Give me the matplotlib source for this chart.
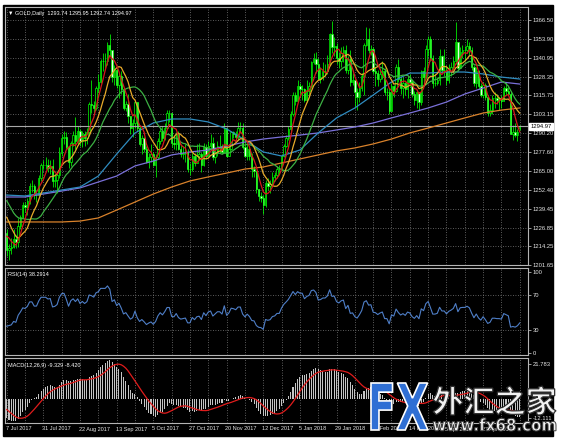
import numpy as np
import pandas as pd
import matplotlib
matplotlib.use("Agg")
from matplotlib import pyplot as plt
from matplotlib.textpath import TextPath
from matplotlib.patches import PathPatch, Rectangle
from matplotlib.font_manager import FontProperties
from matplotlib.transforms import Affine2D, blended_transform_factory

# ---- data: GOLD daily, 7 Jul 2017 .. 21 May 2018 ----
# closes before the window (only used to warm up the indicators)
pre_close = [1230, 1236, 1259, 1253, 1254, 1261, 1251, 1257, 1257, 1267, 1266, 1262, 1268,
             1264, 1279, 1281, 1293, 1287, 1280, 1271, 1266, 1267, 1276, 1255, 1254, 1246,
             1243, 1247, 1249, 1256, 1246, 1252, 1249, 1244, 1242, 1219, 1225, 1226, 1223]

close = [
    # Jul
    1212, 1213, 1214, 1219, 1217, 1228, 1234, 1242, 1241, 1245, 1255, 1255, 1249, 1249, 1260, 1269, 1269,
    # Aug
    1269, 1267, 1268, 1258, 1259, 1262, 1277, 1287, 1288, 1281, 1271, 1284, 1289, 1285, 1292, 1285, 1290,
    1287, 1291, 1310, 1309, 1307, 1321,
    # Sep
    1325, 1339, 1339, 1339, 1350, 1346, 1328, 1333, 1323, 1329, 1320, 1307, 1310, 1302, 1294, 1297, 1311,
    1294, 1283, 1287, 1280,
    # Oct
    1271, 1274, 1276, 1269, 1274, 1285, 1292, 1287, 1294, 1304, 1304, 1284, 1283, 1290, 1280, 1276, 1277,
    1278, 1266, 1266, 1275, 1270,
    # Nov
    1275, 1276, 1269, 1281, 1275, 1282, 1284, 1274, 1278, 1282, 1282, 1278, 1294, 1275, 1280, 1291, 1290,
    1288, 1294, 1294, 1281, 1275,
    # Dec
    1280, 1275, 1266, 1265, 1253, 1248, 1247, 1242, 1257, 1255, 1256, 1261, 1262, 1266, 1266, 1275, 1282,
    1287, 1293, 1303,
    # Jan
    1316, 1312, 1322, 1320, 1320, 1313, 1319, 1322, 1338, 1340, 1337, 1327, 1328, 1332, 1332, 1337, 1357,
    1348, 1349, 1341, 1339, 1344,
    # Feb
    1346, 1333, 1340, 1325, 1326, 1318, 1315, 1321, 1329, 1350, 1354, 1346, 1347, 1332, 1331, 1327, 1330,
    1332, 1318, 1318,
    # Mar
    1305, 1322, 1319, 1335, 1327, 1321, 1324, 1320, 1327, 1325, 1317, 1313, 1318, 1311, 1332, 1328, 1347,
    1354, 1341, 1324, 1324, 1326,
    # Apr
    1342, 1333, 1333, 1326, 1332, 1335, 1339, 1352, 1334, 1345, 1346, 1346, 1349, 1346, 1335, 1324, 1332,
    1322, 1316, 1323, 1315,
    # May
    1304, 1306, 1314, 1314, 1313, 1313, 1312, 1321, 1319, 1317, 1290, 1291, 1289, 1291, 1294.97]

high = [
    1226, 1216, 1220, 1226, 1222, 1233, 1235, 1244, 1244, 1247, 1257, 1259, 1256, 1252, 1262, 1270, 1272,
    1274, 1273, 1272, 1273, 1262, 1265, 1281, 1290, 1292, 1291, 1282, 1285, 1292, 1301, 1295, 1293, 1292,
    1292, 1294, 1311, 1326, 1312, 1322,
    1330, 1340, 1344, 1344, 1352, 1357, 1343, 1336, 1334, 1331, 1332, 1321, 1312, 1317, 1302, 1300, 1312,
    1311, 1295, 1289, 1288,
    1282, 1277, 1283, 1278, 1276, 1287, 1294, 1295, 1297, 1306, 1306, 1304, 1289, 1291, 1292, 1283, 1282,
    1283, 1280, 1270, 1277, 1277,
    1283, 1284, 1278, 1284, 1283, 1285, 1290, 1288, 1281, 1285, 1289, 1283, 1297, 1294, 1283, 1292, 1292,
    1292, 1298, 1298, 1297, 1286,
    1284, 1281, 1277, 1268, 1265, 1253, 1251, 1249, 1259, 1260, 1259, 1264, 1264, 1268, 1269, 1276, 1283,
    1289, 1295, 1305,
    1318, 1318, 1326, 1324, 1323, 1321, 1326, 1325, 1339, 1344, 1345, 1341, 1335, 1338, 1337, 1343, 1358,
    1366, 1355, 1351, 1345, 1348,
    1349, 1350, 1342, 1346, 1331, 1323, 1321, 1325, 1331, 1351, 1362, 1361, 1350, 1348, 1335, 1333, 1334,
    1339, 1334, 1321,
    1321, 1324, 1323, 1337, 1340, 1329, 1328, 1325, 1329, 1330, 1326, 1319, 1319, 1318, 1333, 1335, 1350,
    1356, 1356, 1343, 1330, 1328,
    1347, 1343, 1347, 1336, 1337, 1338, 1342, 1365, 1352, 1348, 1350, 1349, 1354, 1352, 1348, 1336, 1335,
    1333, 1324, 1325, 1324,
    1316, 1310, 1316, 1318, 1317, 1315, 1316, 1322, 1325, 1322, 1319, 1296, 1297, 1293, 1295.95]

low = [
    1208, 1205, 1209, 1213, 1213, 1214, 1226, 1233, 1237, 1235, 1243, 1251, 1246, 1244, 1248, 1258, 1266,
    1266, 1264, 1263, 1254, 1254, 1250, 1260, 1275, 1283, 1280, 1267, 1268, 1282, 1280, 1283, 1282, 1281,
    1282, 1283, 1290, 1304, 1304, 1306,
    1318, 1324, 1332, 1334, 1336, 1342, 1325, 1323, 1321, 1314, 1317, 1306, 1305, 1297, 1290, 1288, 1294,
    1292, 1282, 1276, 1278,
    1270, 1267, 1271, 1268, 1261, 1273, 1283, 1285, 1286, 1293, 1298, 1281, 1280, 1279, 1279, 1274, 1273,
    1271, 1264, 1262, 1265, 1268,
    1270, 1272, 1264, 1268, 1273, 1275, 1280, 1272, 1270, 1275, 1277, 1276, 1277, 1274, 1275, 1279, 1287,
    1286, 1286, 1291, 1280, 1274,
    1272, 1272, 1261, 1261, 1250, 1245, 1244, 1236, 1241, 1252, 1250, 1255, 1258, 1260, 1263, 1265, 1274,
    1281, 1286, 1292,
    1302, 1309, 1311, 1315, 1313, 1311, 1311, 1315, 1321, 1337, 1331, 1326, 1324, 1326, 1329, 1330, 1336,
    1344, 1342, 1337, 1334, 1335,
    1338, 1331, 1330, 1322, 1323, 1307, 1306, 1311, 1319, 1316, 1349, 1344, 1343, 1330, 1322, 1322, 1325,
    1327, 1316, 1313,
    1303, 1305, 1315, 1318, 1325, 1317, 1314, 1316, 1314, 1322, 1315, 1309, 1307, 1306, 1309, 1322, 1327,
    1342, 1339, 1321, 1322, 1323,
    1323, 1331, 1329, 1323, 1324, 1329, 1332, 1337, 1332, 1334, 1341, 1339, 1344, 1343, 1333, 1322, 1321,
    1320, 1315, 1314, 1313,
    1302, 1302, 1303, 1307, 1310, 1306, 1307, 1312, 1316, 1316, 1290, 1286, 1288, 1285, 1292.74]

last_open = 1293.74

# slow moving averages, one value every 8 bars
ma_step = 8
ma_teal = [1248.7, 1248.1, 1250.1, 1252.1, 1254.1, 1261.5, 1276.3, 1290.5, 1297.2, 1299.9, 1299.9,
           1297.9, 1293.2, 1285.8, 1277.7, 1275.0, 1279.0, 1290.5, 1300.6, 1307.3, 1316.0, 1324.8,
           1330.8, 1330.8, 1331.5, 1331.5, 1330.2, 1328.1, 1326.8]
ma_purple = [1247.4, 1247.4, 1249.4, 1251.4, 1253.5, 1257.5, 1261.5, 1268.3, 1271.6, 1275.7, 1277.7,
             1279.0, 1281.7, 1284.4, 1286.4, 1287.8, 1289.1, 1290.5, 1292.5, 1294.5, 1297.2, 1300.6,
             1303.9, 1307.3, 1311.3, 1316.7, 1320.7, 1324.8, 1323.4]
ma_orange = [1230.6, 1230.6, 1230.6, 1230.6, 1231.2, 1233.3, 1238.6, 1244.0, 1249.4, 1254.1, 1258.2,
             1260.9, 1263.5, 1266.2, 1267.6, 1270.3, 1273.0, 1275.7, 1278.4, 1280.4, 1283.1, 1286.4,
             1290.5, 1293.8, 1297.2, 1300.6, 1303.9, 1305.9, 1307.3]

price_ticks = [1366.50, 1353.90, 1340.95, 1328.35, 1315.75, 1303.15, 1290.20, 1277.60,
               1265.00, 1252.40, 1239.45, 1226.85, 1214.25, 1201.65]
date_labels = ['7 Jul 2017', '31 Jul 2017', '22 Aug 2017', '13 Sep 2017', '5 Oct 2017',
               '27 Oct 2017', '20 Nov 2017', '12 Dec 2017', '5 Jan 2018', '29 Jan 2018',
               '20 Feb 2018', '14 Mar 2018', '5 Apr 2018', '27 Apr 2018']
date_step = 16
grid_step = 8

header = "\u25bc GOLD,Daily  1293.74 1295.95 1292.74 1294.97"
rsi_text = "RSI(14) 38.2914"
macd_text = "MACD(12,26,9) -9.329 -8.420"

# ---- indicators ----
full = pd.Series(pre_close + close, dtype=float)
npre = len(pre_close)
c = np.array(close, dtype=float)
o = np.array([pre_close[-1]] + close[:-1], dtype=float)
o[-1] = last_open
h = np.array(high, dtype=float)
l = np.array(low, dtype=float)
n = len(c)
x = np.arange(n)

ma5 = full.rolling(5).mean().values[npre:]
ma10 = full.rolling(10).mean().values[npre:]
ma20 = full.rolling(20).mean().values[npre:]

d = full.diff()
up = d.clip(lower=0).ewm(alpha=1 / 14, adjust=False).mean()
dn = (-d.clip(upper=0)).ewm(alpha=1 / 14, adjust=False).mean()
rsi = (100 - 100 / (1 + up / dn)).values[npre:]

macd = full.ewm(span=12, adjust=False).mean() - full.ewm(span=26, adjust=False).mean()
signal = macd.rolling(9).mean().values[npre:]
macd = macd.values[npre:]

# ---- figure ----
W, H = 562, 438
fig = plt.figure(figsize=(W / 100, H / 100), dpi=100, facecolor='white')
fig.patches.append(Rectangle((3 / W, 1 - 436 / H), 550 / W, 431 / H,
                             transform=fig.transFigure, color='black', zorder=-5))


def box(top, bottom):
    return [5 / W, 1 - bottom / H, 523 / W, (bottom - top) / H]


ax0 = fig.add_axes(box(7, 265))
ax1 = fig.add_axes(box(267.5, 355))
ax2 = fig.add_axes(box(357.5, 422.7))

fnt = ['Liberation Sans', 'DejaVu Sans']
fs = 4.0
gcol = '#7c7c7c'
dot = (0, (1, 2))
xlim = (-0.75, 227.6)

for ax in (ax0, ax1, ax2):
    ax.set_facecolor('black')
    ax.set_xlim(*xlim)
    for s in ax.spines.values():
        s.set_color('#b4b4b4')
        s.set_linewidth(0.8)
    ax.set_xticks([])
    for gx in range(0, n, grid_step):
        ax.axvline(gx, color=gcol, lw=0.6, ls=dot, zorder=1)
    ax.yaxis.tick_right()
    ax.tick_params(axis='y', direction='out', length=2, width=0.6, color='#b4b4b4',
                   labelcolor='#e6e6e6', labelsize=4.2, pad=1.2)

# main price panel
ax0.set_ylim(1201.64, 1375.25)
ax0.set_yticks(price_ticks)
ax0.set_yticklabels(['%.2f' % p for p in price_ticks], family=fnt)
for p in price_ticks:
    ax0.axhline(p, color=gcol, lw=0.6, ls=dot, zorder=1)

ax0.vlines(x, l, h, color='#00ff00', lw=0.55, zorder=2)
bull = c >= o
ax0.bar(x[bull], (c - o)[bull], bottom=o[bull], width=0.6, color='black',
        edgecolor='#00ff00', lw=0.5, zorder=2)
ax0.bar(x[~bull], (o - c)[~bull], bottom=c[~bull], width=0.6, color='#e4ffe4',
        edgecolor='#00ff00', lw=0.5, zorder=2)

mx = np.arange(len(ma_orange)) * ma_step
ax0.plot(mx, ma_orange, color='#d9822b', lw=0.9, zorder=3)
ax0.plot(mx, ma_purple, color='#7a70d8', lw=0.9, zorder=3)
ax0.plot(mx, ma_teal, color='#2f8cc0', lw=0.9, zorder=3)
ax0.plot(x, ma20, color='#3cb043', lw=0.9, zorder=3)
ax0.plot(x, ma10, color='#e8aa2a', lw=0.9, zorder=3)
ax0.plot(x, ma5, color='#d41a1a', lw=0.9, zorder=3)

ax0.axhline(c[-1], color='#a8a8a8', lw=0.8, zorder=2)
bt = blended_transform_factory(ax0.transAxes, ax0.transData)
ax0.text(1.004, c[-1], '%.2f' % c[-1], transform=bt, ha='left', va='center', fontsize=4.2,
         family=fnt, color='black', zorder=5, clip_on=False,
         bbox=dict(boxstyle='square,pad=0.2', fc='white', ec='white'))
ax0.text(0.006, 0.985, header, transform=ax0.transAxes, ha='left', va='top', fontsize=fs,
         family=fnt, color='white')

# RSI panel
ax1.set_ylim(1.4, 101.4)
ax1.set_yticks([96.5, 70, 30, 3.5])
ax1.set_yticklabels(['100', '70', '30', '0'], family=fnt)
for lv in (70, 30):
    ax1.axhline(lv, color=gcol, lw=0.6, ls=dot, zorder=1)
ax1.plot(x, rsi, color='#4f7fc8', lw=0.8, zorder=3)
ax1.text(0.006, 0.95, rsi_text, transform=ax1.transAxes, ha='left', va='top', fontsize=fs,
         family=fnt, color='white')

# MACD panel
ax2.set_ylim(-12.11, 21.783)
ax2.set_yticks([18.4, -9.7])
ax2.set_yticklabels(['21.783', '-12.111'], family=fnt)
ax2.bar(x, macd, width=0.45, color='#c4c4c4', lw=0, zorder=2)
ax2.plot(x, signal, color='#e01c1c', lw=0.9, zorder=3)
ax2.text(0.006, 0.92, macd_text, transform=ax2.transAxes, ha='left', va='top', fontsize=fs,
         family=fnt, color='white')

# date labels under the MACD panel
dt = blended_transform_factory(ax2.transData, fig.transFigure)
for i, lab in enumerate(date_labels):
    ax2.text(i * date_step - 0.5, 1 - 429 / H, lab, transform=dt, ha='left', va='center',
             fontsize=fs, family=fnt, color='#e6e6e6', clip_on=False)


# ---- watermark ----
def shape_text(s, x0, y0, x1, y1, fp, face, edge, lw):
    tp = TextPath((0, 0), s, size=1, prop=fp)
    e = tp.get_extents()
    tr = (Affine2D().translate(-e.x0, -e.y0)
          .scale((x1 - x0) / e.width, (y1 - y0) / e.height)
          .translate(x0, H - y1))
    fig.add_artist(PathPatch(tp, transform=tr, fc=face, ec=edge, lw=lw, zorder=10))


shape_text("FX", 371, 383, 428, 430, FontProperties(family='DejaVu Sans', weight='bold'),
           '#2f6fd4', 'white', 1.2)
shape_text("\u5916\u6c47\u4e4b\u5bb6", 433, 386, 556, 415,
           FontProperties(family='Noto Sans CJK SC', weight='bold'), '#f2f2f2', '#303030', 0.9)
shape_text("www.fx68.com", 433, 418, 556, 431, FontProperties(family='DejaVu Sans', weight='bold'),
           '#f2f2f2', '#404040', 0.7)

fig.savefig('out.png', dpi=100, facecolor='white')
